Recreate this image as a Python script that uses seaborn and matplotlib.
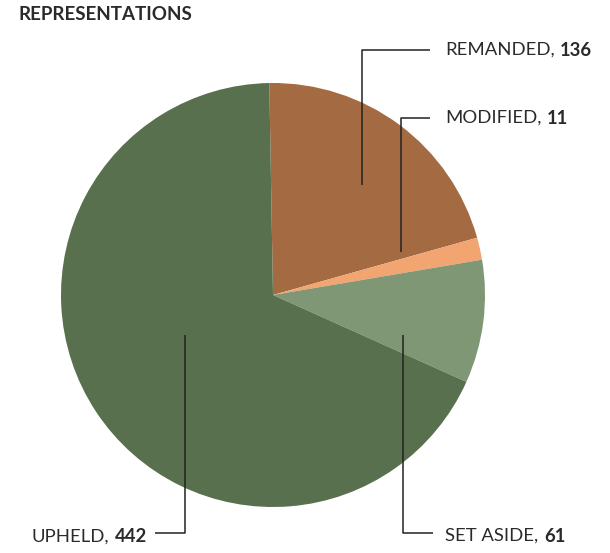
import matplotlib.pyplot as plt
import seaborn as sns

# values (clockwise from the top)
outcomes = ['REMANDED', 'MODIFIED', 'SET ASIDE', 'UPHELD']
counts = [136, 11, 61, 442]
colours = ['#A46B43', '#F2A571', '#7F9774', '#58704D']

sns.set_theme(style='white')
plt.rcParams['font.family'] = ['Lato', 'DejaVu Sans']

W, H = 610, 553
fig = plt.figure(figsize=(W / 100, H / 100), dpi=100)

# pie: centre (273, 295) px, radius 212 px
cx, cy, r = 273, 295, 212
ax = fig.add_axes([(cx - r) / W, (H - cy - r) / H, 2 * r / W, 2 * r / H])
ax.pie(counts, colors=colours, startangle=91, counterclock=False,
       radius=1, wedgeprops=dict(linewidth=0))
ax.set_xlim(-1, 1)
ax.set_ylim(-1, 1)
ax.set_aspect('equal')
ax.axis('off')

# overlay in pixel coordinates for leader lines and labels
ov = fig.add_axes([0, 0, 1, 1], zorder=5)
ov.set_xlim(0, W)
ov.set_ylim(H, 0)
ov.axis('off')

lc = '#222222'
leaders = {
    'REMANDED': [(362, 185), (362, 50), (430, 50)],
    'MODIFIED': [(401, 252), (401, 118), (430, 118)],
    'SET ASIDE': [(403, 335), (403, 533), (433, 533)],
    'UPHELD': [(185, 335), (185, 533), (155, 533)],
}
for pts in leaders.values():
    xs, ys = zip(*pts)
    ov.plot(xs, ys, color=lc, linewidth=1.1, solid_capstyle='butt')

fs = 13.3
tc = '#2a2a2a'
label_pos = {'REMANDED': (445, 50), 'MODIFIED': (445, 118), 'SET ASIDE': (445, 536)}
for name, n in zip(outcomes, counts):
    if name in label_pos:
        x, y = label_pos[name]
        t = ov.text(x, y, name + ',', fontsize=fs, color=tc, ha='left', va='center')
        ov.annotate(str(n), xy=(1, 0.5), xycoords=t, xytext=(4, 0),
                    textcoords='offset points', fontsize=fs, color=tc,
                    fontweight='bold', ha='left', va='center')
    else:
        t = ov.text(147, 537, str(n), fontsize=fs, color=tc, fontweight='bold',
                    ha='right', va='center')
        ov.annotate(name + ',', xy=(0, 0.5), xycoords=t, xytext=(-4, 0),
                    textcoords='offset points', fontsize=fs, color=tc,
                    ha='right', va='center')

ov.text(18, 14, 'REPRESENTATIONS', fontsize=13.5, fontweight='bold',
        color='#2a2a2a', ha='left', va='center')

fig.savefig('out.png', dpi=100)
